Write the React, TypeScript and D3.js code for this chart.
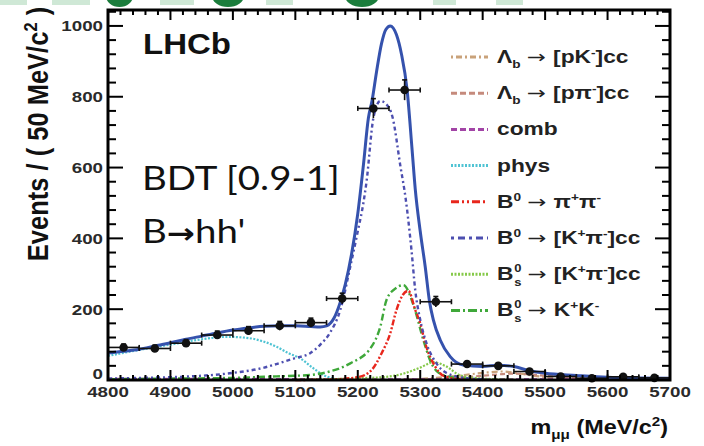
import React from "react";
import * as d3 from "d3";

// ---------- data ----------
const binCenters = [4825, 4875, 4925, 4975, 5025, 5075, 5125, 5175, 5225, 5275, 5325, 5375, 5425, 5475, 5525, 5575, 5625, 5675];
const binCounts = [92, 89, 104, 127, 139, 153, 162, 230, 767, 819, 221, 45, 40, 24, 10, 5, 9, 6];

const totalM = [4800, 4825, 4850, 4875, 4900, 4925, 4950, 4975, 5000, 5025, 5050, 5075, 5100, 5125, 5140, 5150, 5162, 5172, 5180, 5190, 5200, 5209, 5217, 5223, 5230, 5238, 5245, 5252, 5262, 5270, 5279, 5287, 5292, 5300, 5308, 5315, 5321, 5332, 5348, 5369, 5400, 5425, 5450, 5475, 5500, 5550, 5600, 5650, 5700];
const totalV = [76, 81, 87, 96, 105, 115, 124, 133, 141, 147, 152, 153, 153, 151, 150, 153, 175, 220, 270, 355, 470, 607, 740, 790, 870, 950, 990, 1000, 975, 920, 819, 650, 540, 420, 320, 220, 170, 113, 66, 42, 38, 42, 38, 26, 19, 13, 8, 6, 5];

const kpiM = [4800, 4850, 4900, 4950, 5000, 5050, 5075, 5100, 5123, 5140, 5155, 5172, 5188, 5200, 5209, 5214, 5225, 5236, 5245, 5256, 5268, 5277, 5286, 5292, 5300, 5310, 5326, 5342, 5375, 5400];
const kpiV = [4, 6, 8, 12, 20, 35, 48, 62, 75, 100, 132, 198, 320, 420, 500, 560, 740, 788, 780, 740, 607, 508, 367, 254, 170, 104, 47, 20, 5, 2];

const pipiM = [5100, 5150, 5200, 5222, 5238, 5252, 5262, 5272, 5281, 5292, 5300, 5308, 5324, 5337, 5360, 5400];
const pipiV = [0, 1, 8, 28, 75, 132, 198, 240, 252, 198, 160, 104, 38, 12, 3, 0];

const kkM = [4800, 4900, 5000, 5050, 5100, 5123, 5155, 5188, 5222, 5236, 5246, 5260, 5273, 5290, 5305, 5318, 5330, 5350, 5400];
const kkV = [2, 4, 6, 9, 12, 14, 24, 47, 94, 150, 226, 258, 268, 207, 113, 47, 20, 8, 1];

const bsKpiM = [5100, 5150, 5200, 5240, 5275, 5300, 5321, 5342, 5363, 5400, 5450];
const bsKpiV = [1, 2, 5, 8, 19, 35, 50, 38, 14, 4, 1];

const physM = [4800, 4850, 4900, 4950, 4990, 5027, 5050, 5070, 5090, 5107, 5129, 5145, 5160, 5175];
const physV = [68, 85, 100, 115, 122, 118, 108, 94, 75, 62, 33, 14, 4, 0];

const combM = [4800, 5000, 5200, 5400, 5700];
const combV = [3, 3, 2, 2, 2];

const lbPKM = [5250, 5300, 5350, 5400, 5430, 5460, 5500, 5550, 5600];
const lbPKV = [0, 3, 10, 20, 24, 18, 8, 3, 1];

const lbPPiM = [5300, 5350, 5400, 5450, 5500, 5550, 5600, 5650];
const lbPPiV = [1, 5, 12, 18, 12, 6, 2, 1];

const yTicks = [0, 200, 400, 600, 800, 1000];
const xTicks = [4800, 4900, 5000, 5100, 5200, 5300, 5400, 5500, 5600, 5700];

// ---------- styles ----------
const comps = [
  { key: "lbpk", m: lbPKM, v: lbPKV, color: "#c9a27a", dash: "2,3,6,3", w: 2.2 },
  { key: "lbppi", m: lbPPiM, v: lbPPiV, color: "#c58a7c", dash: "5,3", w: 2.2 },
  { key: "comb", m: combM, v: combV, color: "#a244a6", dash: "5,3", w: 2.2 },
  { key: "phys", m: physM, v: physV, color: "#4fc3d3", dash: "2,1.5", w: 2.2 },
  { key: "bskpi", m: bsKpiM, v: bsKpiV, color: "#86c94a", dash: "2,1.5", w: 2.2 },
  { key: "kk", m: kkM, v: kkV, color: "#3fa83a", dash: "7,3,2,3", w: 2.4 },
  { key: "pipi", m: pipiM, v: pipiV, color: "#e8261c", dash: "6,2,2,2,2,2", w: 2.4 },
  { key: "kpi", m: kpiM, v: kpiV, color: "#4d4fb0", dash: "4,3,2,3", w: 2.4 },
];

const legend = [
  { color: "#c9a27a", dash: "2,3,6,3", label: "lbpk" },
  { color: "#c58a7c", dash: "6,3", label: "lbppi" },
  { color: "#a244a6", dash: "6,3", label: "comb" },
  { color: "#4fc3d3", dash: "2,1.5", label: "phys" },
  { color: "#e8261c", dash: "8,3,2,3,2,3", label: "pipi" },
  { color: "#4d4fb0", dash: "3,4,7,4", label: "kpi" },
  { color: "#86c94a", dash: "2,1.5", label: "bskpi" },
  { color: "#3fa83a", dash: "9,3,2,3", label: "kk" },
];

const HEL = "'Liberation Sans', Arial, Helvetica, sans-serif";
const ARW = { fontFamily: "'DejaVu Sans', sans-serif", fontWeight: 400 } as any;

function LegendText({ k }: { k: string }) {
  const st = { fontFamily: HEL, fontWeight: 700, fontSize: 17.5, fill: "#222" } as any;
  const sm = { fontSize: 10.5 } as any;
  const arrow = <tspan style={ARW}> → </tspan>;
  if (k === "lbpk")
    return (<text x={0} y={0} style={st}>Λ<tspan dy={5} style={sm}>b</tspan><tspan dy={-5}>{" "}</tspan>{arrow}<tspan>[pK</tspan><tspan dy={-7} style={sm}>-</tspan><tspan dy={7}>]cc</tspan></text>);
  if (k === "lbppi")
    return (<text x={0} y={0} style={st}>Λ<tspan dy={5} style={sm}>b</tspan><tspan dy={-5}>{" "}</tspan>{arrow}<tspan>[pπ</tspan><tspan dy={-7} style={sm}>-</tspan><tspan dy={7}>]cc</tspan></text>);
  if (k === "comb") return <text x={0} y={0} style={st}>comb</text>;
  if (k === "phys") return <text x={0} y={0} style={st}>phys</text>;
  if (k === "pipi")
    return (<text x={0} y={0} style={st}>B<tspan dy={-7} style={sm}>0</tspan><tspan dy={7}>{" "}</tspan>{arrow}<tspan>π</tspan><tspan dy={-7} style={sm}>+</tspan><tspan dy={7}>π</tspan><tspan dy={-7} style={sm}>-</tspan></text>);
  if (k === "kpi")
    return (<text x={0} y={0} style={st}>B<tspan dy={-7} style={sm}>0</tspan><tspan dy={7}>{" "}</tspan>{arrow}<tspan>[K</tspan><tspan dy={-7} style={sm}>+</tspan><tspan dy={7}>π</tspan><tspan dy={-7} style={sm}>-</tspan><tspan dy={7}>]cc</tspan></text>);
  const tail = k === "bskpi"
    ? (<><tspan>[K</tspan><tspan dy={-7} style={sm}>+</tspan><tspan dy={7}>π</tspan><tspan dy={-7} style={sm}>-</tspan><tspan dy={7}>]cc</tspan></>)
    : (<><tspan>K</tspan><tspan dy={-7} style={sm}>+</tspan><tspan dy={7}>K</tspan><tspan dy={-7} style={sm}>-</tspan></>);
  return (
    <g>
      <text x={0} y={0} style={st}>B</text>
      <text x={13.2} y={-8} style={{ ...st, fontSize: 10 }}>0</text>
      <text x={13.2} y={6} style={{ ...st, fontSize: 10 }}>s</text>
      <text x={23.5} y={0} style={st}>{arrow}{tail}</text>
    </g>
  );
}

export default function App() {
  const W = 704, H = 446;
  const L = 108, R = 670, T = 10, B = 380;
  const x = d3.scaleLinear().domain([4800, 5700]).range([L, R]);
  const y = d3.scaleLinear().domain([0, 1045]).range([B, T]);

  const mk = (m: number[], v: number[]) =>
    d3.line<number>().x((_, i) => x(m[i])).y((_, i) => y(v[i])).curve(d3.curveMonotoneX)(v) || "";

  const minorY = d3.range(0, 1041, 40);
  const minorX = d3.range(4800, 5701, 20);

  const tickFont = { fontFamily: HEL, fontWeight: 700, fontSize: 15, fill: "#2a2a2a" } as any;

  const legY0 = 57, legDy = 36.2;

  return (
    <svg width={W} height={H} style={{ position: "absolute", left: 0, top: 0, background: "#fff" }}>
      {/* cropped slide decoration at top */}
      <g>
        {[[0, 27], [52, 90], [160, 194], [266, 293], [433, 456], [496, 523]].map(([a, b], i) => (
          <rect key={"r" + i} x={a} y={0} width={b - a} height={5} fill="#cfe8d6" />
        ))}
        {[[106, 133], [212, 244], [345, 379]].map(([a, b], i) => (
          <ellipse key={"e" + i} cx={(a + b) / 2} cy={-4} rx={(b - a) / 2} ry={11} fill="#1b7d3c" />
        ))}
      </g>

      {/* components */}
      {comps.map((c) => (
        <path key={c.key} d={mk(c.m, c.v)} fill="none" stroke={c.color} strokeWidth={c.w} strokeDasharray={c.dash} />
      ))}
      {/* total */}
      <path d={mk(totalM, totalV)} fill="none" stroke="#3552ad" strokeWidth={3} />

      {/* data points */}
      {binCenters.map((m, i) => {
        const v = binCounts[i];
        const e = Math.sqrt(v);
        const cx = x(m), cy = y(v);
        return (
          <g key={"p" + i} stroke="#111" strokeWidth={1.6}>
            <line x1={x(m - 25)} x2={x(m + 25)} y1={cy} y2={cy} />
            <line x1={x(m - 25)} x2={x(m - 25)} y1={cy - 2.5} y2={cy + 2.5} />
            <line x1={x(m + 25)} x2={x(m + 25)} y1={cy - 2.5} y2={cy + 2.5} />
            <line x1={cx} x2={cx} y1={y(v - e)} y2={y(v + e)} />
            <line x1={cx - 2.5} x2={cx + 2.5} y1={y(v + e)} y2={y(v + e)} />
            <circle cx={cx} cy={cy} r={4.3} fill="#111" stroke="none" />
          </g>
        );
      })}

      {/* ticks */}
      <g stroke="#000" strokeWidth={2}>
        {minorY.map((v) => {
          const major = v % 200 === 0;
          const len = major ? 15 : 8;
          return (
            <g key={"yt" + v}>
              <line x1={L} x2={L + len} y1={y(v)} y2={y(v)} />
              <line x1={R} x2={R - len} y1={y(v)} y2={y(v)} />
            </g>
          );
        })}
        {minorX.map((m) => {
          const major = m % 100 === 0;
          const len = major ? 10 : 5;
          return (
            <g key={"xt" + m}>
              <line x1={x(m)} x2={x(m)} y1={B} y2={B - len} />
              <line x1={x(m)} x2={x(m)} y1={T} y2={T + len} />
            </g>
          );
        })}
      </g>
      <rect x={L} y={T} width={R - L} height={B - T} fill="none" stroke="#000" strokeWidth={3} />

      {/* tick labels */}
      {yTicks.map((v) => (
        <text key={"yl" + v} transform={`translate(${L - 5},${v === 0 ? y(v) - 1 : y(v) + 5.5}) scale(1.25,1)`} textAnchor="end" style={tickFont}>{v}</text>
      ))}
      {xTicks.map((m) => (
        <text key={"xl" + m} transform={`translate(${x(m)},${397}) scale(1.25,1)`} textAnchor="middle" style={tickFont}>{m}</text>
      ))}

      {/* axis titles */}
      <text transform="translate(48,134) scale(1.15,1) rotate(-90)" textAnchor="middle"
        style={{ fontFamily: HEL, fontWeight: 700, fontSize: 25.5, fill: "#111" }}>
        Events / ( 50 MeV/c<tspan dy={-10} style={{ fontSize: 16.5 }}>2</tspan><tspan dy={10}> )</tspan>
      </text>
      <text transform="translate(668,434) scale(1.17,1)" textAnchor="end"
        style={{ fontFamily: HEL, fontWeight: 700, fontSize: 20, fill: "#111" }}>
        m<tspan dy={5} style={{ fontSize: 13 }}>μμ</tspan><tspan dy={-5}> (MeV/c</tspan><tspan dy={-8} style={{ fontSize: 13 }}>2</tspan><tspan dy={8}>)</tspan>
      </text>

      {/* annotations */}
      <text transform="translate(143,54) scale(1.1,1)" style={{ fontFamily: HEL, fontWeight: 700, fontSize: 30, fill: "#111" }}>LHCb</text>
      <text transform="translate(142,190) scale(1.2,1)" style={{ fontFamily: "Lato, 'Open Sans', sans-serif", fontWeight: 400, fontSize: 32, fill: "#111" }}>BDT [0.9-1]</text>
      <text transform="translate(142,243) scale(1.2,1)" style={{ fontFamily: "Lato, 'Open Sans', sans-serif", fontWeight: 400, fontSize: 32, fill: "#111" }}>B<tspan style={{ fontFamily: "'DejaVu Sans', sans-serif", fontWeight: 700, fontSize: 28 }}>→</tspan>hh'</text>

      {/* legend */}
      {legend.map((e, i) => {
        const ly = legY0 + i * legDy;
        return (
          <g key={"lg" + i}>
            <line x1={451} x2={488} y1={ly} y2={ly} stroke={e.color} strokeWidth={3} strokeDasharray={e.dash} />
            <g transform={`translate(497,${ly + 6}) scale(1.3,1)`}>
              <LegendText k={e.label} />
            </g>
          </g>
        );
      })}
    </svg>
  );
}
